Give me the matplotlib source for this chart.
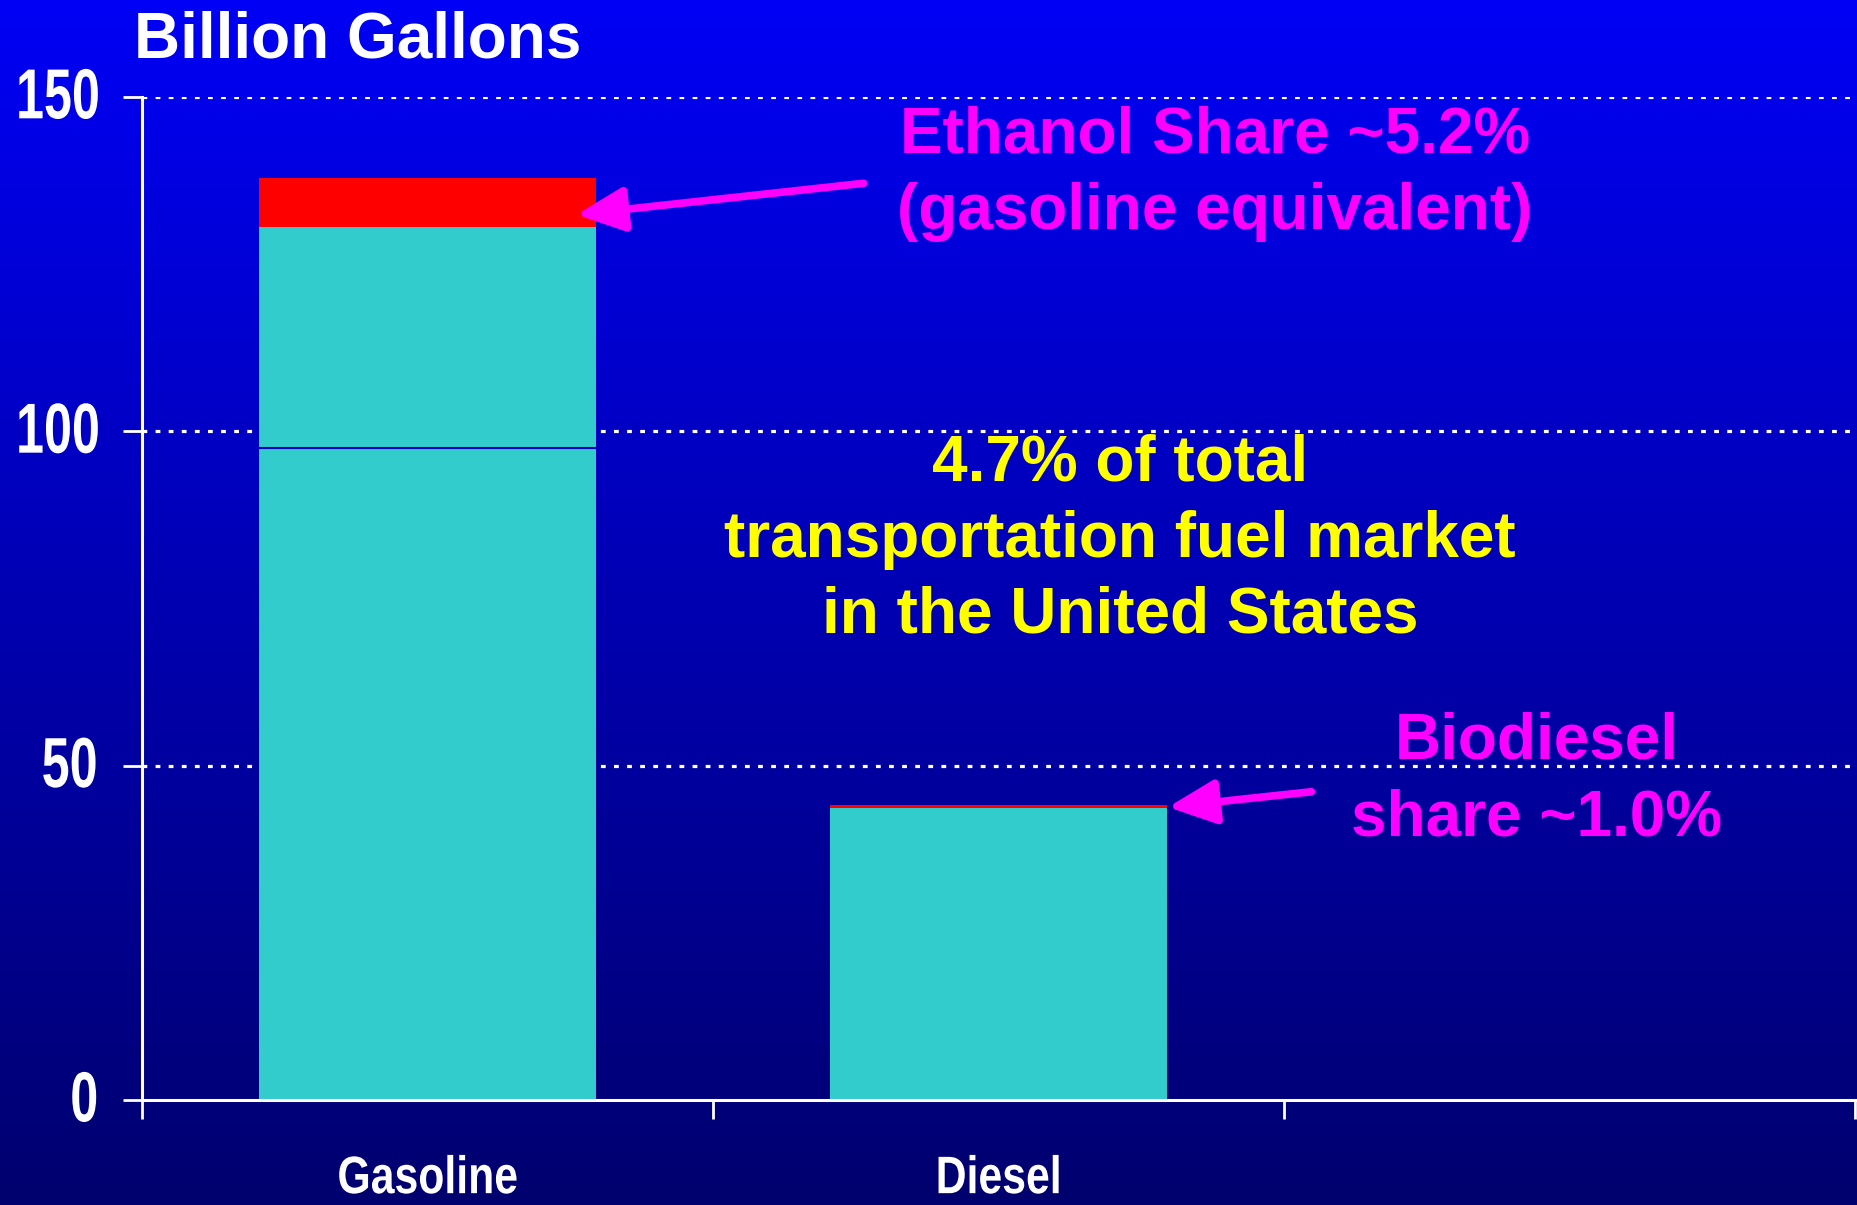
import numpy as np
import matplotlib
matplotlib.use("Agg")
import matplotlib.pyplot as plt
from matplotlib.colors import LinearSegmentedColormap
from matplotlib.patheffects import AbstractPathEffect
from matplotlib.transforms import Affine2D
from matplotlib.path import Path
from matplotlib.textpath import TextPath
from matplotlib.font_manager import FontProperties

# ---- data ----
categories = ["Gasoline", "Diesel", ""]
petroleum_base = [97.5, 43.7, 0.0]     # lower cyan segment
petroleum_upper = [33.0, 0.0, 0.0]     # upper cyan segment (gasoline)
biofuel = [7.4, 0.4, 0.0]              # ethanol / biodiesel (red)
yticks = [0, 50, 100, 150]

CYAN = "#33CCCC"
RED = "#FF0000"
MAGENTA = "#FF00FF"
YELLOW = "#FFFF00"


class Condense(AbstractPathEffect):
    """Horizontally squeeze a text path (emulates a narrow typeface)."""

    def __init__(self, sx=0.77, anchor="center"):
        super().__init__()
        self.sx = sx
        self.anchor = anchor

    def draw_path(self, renderer, gc, tpath, affine, rgbFace=None):
        verts = tpath.vertices
        if tpath.codes is not None:
            verts = verts[tpath.codes != Path.CLOSEPOLY]
        if len(verts):
            v = affine.transform(verts)
            xmin, xmax = v[:, 0].min(), v[:, 0].max()
            cx = {"left": xmin, "right": xmax}.get(self.anchor, 0.5 * (xmin + xmax))
            affine = affine + Affine2D().translate(-cx, 0).scale(self.sx, 1).translate(cx, 0)
        renderer.draw_path(gc, tpath, affine, rgbFace)


W, H, DPI = 1858, 1205, 100
fig = plt.figure(figsize=(W / DPI, H / DPI), dpi=DPI)

# gradient background
bg = fig.add_axes([0, 0, 1, 1], zorder=-10)
grad = np.linspace(0, 1, 256).reshape(-1, 1)
cmap = LinearSegmentedColormap.from_list("bg", [(0, 0, 245 / 255), (0, 0, 110 / 255)])
bg.imshow(grad, aspect="auto", cmap=cmap, extent=[0, 1, 0, 1], origin="upper")
bg.set_axis_off()

ax = fig.add_axes([142 / W, 105 / H, (1855 - 142) / W, (1100 - 97) / H])
ax.set_facecolor("none")

x = np.arange(len(categories))
bw = 0.59
base = np.array(petroleum_base)
up = np.array(petroleum_upper)
bio = np.array(biofuel)
ax.bar(x, base, bw, color=CYAN, linewidth=0, zorder=3)
ax.bar(x, up, bw, bottom=base, color=CYAN, linewidth=0, zorder=3)
ax.bar(x, bio, bw, bottom=base + up, color=RED, linewidth=0, zorder=3)
# separator line between stacked cyan segments
for xi, b, u in zip(x, base, up):
    if u > 0:
        ax.hlines(b, xi - bw / 2, xi + bw / 2, color="#0000CC", lw=1.5, zorder=4)

ax.set_xlim(-0.5, 2.5)
ax.set_ylim(0, 150)

# gridlines
for yv in yticks[1:]:
    ax.axhline(yv, color="white", lw=2.3, linestyle=(0, (1.5, 2.6)), zorder=1)

for s in ["top", "right"]:
    ax.spines[s].set_visible(False)
for s in ["left", "bottom"]:
    ax.spines[s].set_color("white")
    ax.spines[s].set_linewidth(2.2)
ax.spines["bottom"].set_zorder(5)

tick_font = ["Liberation Sans", "DejaVu Sans"]

# y ticks + narrow, right-aligned labels
TICK_LEN, YPAD, YSIZE, YSQ = 14, 21, 51, 0.71
ax.set_yticks(yticks)
ax.set_yticklabels([])
ax.tick_params(axis="y", direction="out", length=TICK_LEN, width=2, color="white")
fp = FontProperties(family=tick_font, weight="bold", size=YSIZE)
for v in yticks:
    s = str(v)
    w_pt = TextPath((0, 0), s, prop=fp).get_extents().width
    off = -(TICK_LEN + YPAD) - YSQ * w_pt
    t = ax.annotate(s, xy=(0, v), xycoords=ax.get_yaxis_transform(),
                    xytext=(off, 3), textcoords="offset points",
                    ha="left", va="center_baseline", fontfamily=tick_font,
                    fontweight="bold", fontsize=YSIZE, color="white")
    t.set_path_effects([Condense(YSQ, "left")])

ax.set_xticks(x)
ax.set_xticklabels(categories, fontfamily=tick_font, fontweight="bold",
                   fontsize=38, color="white")
ax.tick_params(axis="x", which="major", length=0, pad=39)
for lab in ax.get_xticklabels():
    lab.set_path_effects([Condense(0.81, "center")])
ax.set_xticks(np.arange(-0.5, 2.6, 1.0), minor=True)
ax.tick_params(axis="x", which="minor", direction="out", length=TICK_LEN, width=2,
               color="white")

bold = ["Liberation Sans", "DejaVu Sans"]
fig.text(134 / W, 1 - 57 / H, "Billion Gallons", fontfamily=bold, fontweight="bold",
         fontsize=46, color="white", ha="left", va="baseline")

ax.text(1.379, 138.5, "Ethanol Share ~5.2%\n(gasoline equivalent)", fontfamily=bold,
        fontweight="bold", fontsize=46, color=MAGENTA, ha="center", va="center",
        linespacing=1.36)
ax.text(1.213, 83.8, "4.7% of total\ntransportation fuel market\nin the United States",
        fontfamily=bold, fontweight="bold", fontsize=46, color=YELLOW, ha="center",
        va="center", linespacing=1.34)
ax.text(1.943, 47.8, "Biodiesel\nshare ~1.0%", fontfamily=bold, fontweight="bold",
        fontsize=46, color=MAGENTA, ha="center", va="center", linespacing=1.36)

arrow_kw = dict(arrowstyle="-|>,head_length=2.9,head_width=1.35", color=MAGENTA, lw=5.5,
                shrinkA=0, shrinkB=0)
ax.annotate("", xy=(0.261, 132.4), xytext=(0.764, 137.1), arrowprops=arrow_kw, zorder=6)
ax.annotate("", xy=(1.297, 43.8), xytext=(1.548, 46.1), arrowprops=arrow_kw, zorder=6)

fig.savefig("out.png", dpi=DPI)
